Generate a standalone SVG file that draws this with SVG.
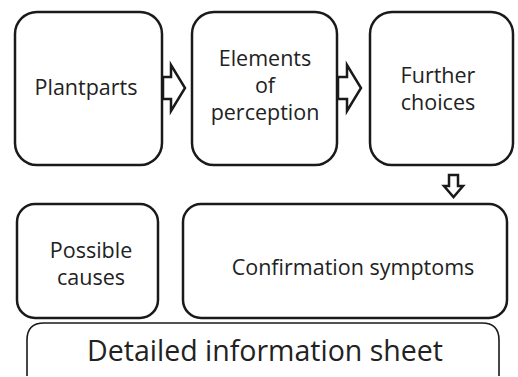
<svg xmlns="http://www.w3.org/2000/svg" width="518" height="377" viewBox="0 0 518 377">
  <style>
    .box { fill: #ffffff; stroke: #1a1a1a; stroke-width: 2.5; }
    .sheet { fill: #ffffff; stroke: #1a1a1a; stroke-width: 1.6; }
    .arrow { fill: #ffffff; stroke: #1a1a1a; stroke-width: 2.5; stroke-linejoin: miter; }
    text { font-family: "Open Sans", "Noto Sans", sans-serif; fill: #222222; text-anchor: middle; }
    .lbl { font-size: 21.5px; }
    .big { font-size: 28.5px; }
  </style>
  <rect width="518" height="377" fill="#ffffff"/>

  <g id="plantparts">
    <rect class="box" x="15" y="12" width="147" height="153" rx="22"/>
    <text class="lbl" x="86" y="95">Plantparts</text>
  </g>

  <g id="elements-of-perception">
    <rect class="box" x="192" y="12" width="145" height="153" rx="22"/>
    <text class="lbl" x="265" y="66">Elements</text>
    <text class="lbl" x="265" y="93">of</text>
    <text class="lbl" x="265" y="120">perception</text>
  </g>

  <g id="further-choices">
    <rect class="box" x="370" y="12" width="143" height="153" rx="22"/>
    <text class="lbl" x="438" y="83">Further</text>
    <text class="lbl" x="438" y="110">choices</text>
  </g>

  <g id="possible-causes">
    <rect class="box" x="17" y="204" width="141" height="114" rx="18"/>
    <text class="lbl" x="91" y="258">Possible</text>
    <text class="lbl" x="91" y="285">causes</text>
  </g>

  <g id="confirmation-symptoms">
    <rect class="box" x="183" y="204" width="324" height="114" rx="18"/>
    <text class="lbl" x="353" y="275">Confirmation symptoms</text>
  </g>

  <g id="detailed-information-sheet">
    <path class="sheet" d="M27 376 V340 Q27 323 44 323 H482 Q499 323 499 340 V376"/>
    <text class="big" x="265" y="361">Detailed information sheet</text>
  </g>

  <g id="connectors">
    <!-- block arrow: Plantparts to Elements of perception -->
    <path class="arrow" d="M163 77 H171 V65 L185 88 L171 111 V99 H163 Z"/>
    <!-- block arrow: Elements of perception to Further choices -->
    <path class="arrow" d="M338 77 H347 V65 L361 88 L347 111 V99 H338 Z"/>
    <!-- block arrow down: Further choices to Confirmation symptoms -->
    <path class="arrow" d="M449 175 H458 V186 H463 L453.5 197 L444 186 H449 Z"/>
  </g>
</svg>
